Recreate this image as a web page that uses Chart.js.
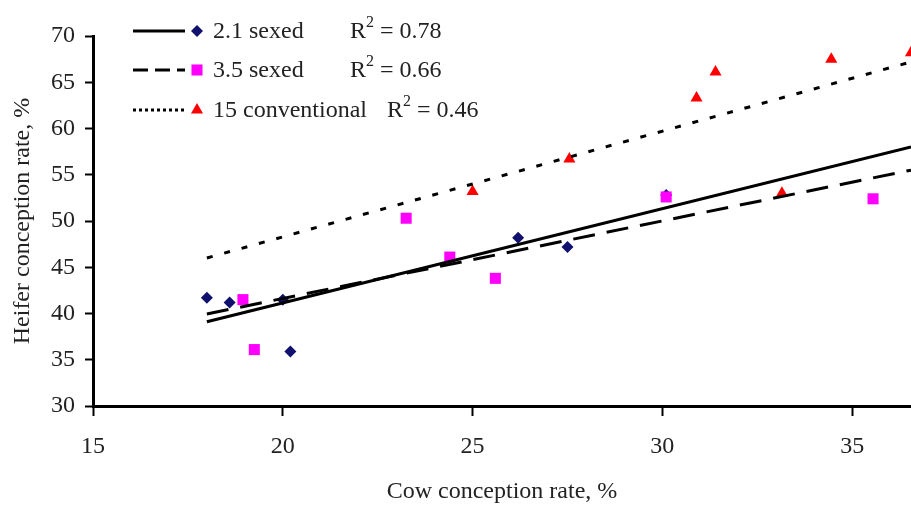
<!DOCTYPE html>
<html>
<head>
  <title>Heifer vs cow conception rate</title>
  <script src="https://cdn.jsdelivr.net/npm/chart.js"></script>
  <style>
    body { margin: 0; background: #fff; }
    #wrap { width: 911px; height: 506px; }
  </style>
</head>
<body>
  <div id="wrap"><canvas id="chart"></canvas></div>
  <script>
    // legend text
    const seriesNames = ['2.1 sexed', '3.5 sexed', '15 conventional'];
    const rSquared = ['0.78', '0.66', '0.46'];

    // points: cow conception rate (x) vs heifer conception rate (y)
    const sexed21Cow = [18.0, 18.6, 20.0, 20.2, 26.2, 27.5, 30.1];
    const sexed21Heifer = [41.7, 41.2, 41.5, 35.9, 48.2, 47.2, 52.8];
    const sexed35Cow = [18.95, 19.25, 23.25, 24.4, 25.6, 30.1, 35.55];
    const sexed35Heifer = [41.5, 36.1, 50.3, 46.1, 43.8, 52.6, 52.4];
    const convCow = [25.0, 27.55, 30.9, 31.4, 33.15, 34.45, 36.55];
    const convHeifer = [53.2, 56.7, 63.3, 66.1, 53.0, 67.5, 68.2];

    // trend line end points
    const trendCow = [18.0, 36.55];
    const trend21 = [39.1, 58.0];
    const trend35 = [39.95, 55.5];
    const trend15 = [46.0, 67.2];

    // axes
    const xMin = 15, xMax = 36.55, xStep = 5;
    const yMin = 30, yMax = 70, yStep = 5;

    const pairs = (xs, ys) => xs.map((x, i) => ({ x: x, y: ys[i] }));
    const serif = 'Liberation Serif';
    const textColor = '#222';

    const markers = [
      { style: 'rectRot', color: '#10106e', r: 6 },
      { style: 'rect', color: '#ff00ff', r: 7.8 },
      { style: 'triangle', color: '#ff0000', r: 7 }
    ];
    const plotDash = [[], [22, 12], [6, 12]];
    const legendDash = [[], [15, 7], [3, 3]];

    // legend marker, same geometry as Chart.js point styles
    function drawMarker(ctx, m, x, y) {
      ctx.save();
      ctx.fillStyle = m.color;
      ctx.beginPath();
      if (m.style === 'rectRot') {
        ctx.moveTo(x, y - m.r); ctx.lineTo(x + m.r, y);
        ctx.lineTo(x, y + m.r); ctx.lineTo(x - m.r, y);
      } else if (m.style === 'rect') {
        const s = m.r * Math.SQRT1_2;
        ctx.rect(x - s, y - s, s * 2, s * 2);
      } else {
        ctx.moveTo(x, y - m.r);
        ctx.lineTo(x + m.r * 0.866, y + m.r / 2);
        ctx.lineTo(x - m.r * 0.866, y + m.r / 2);
      }
      ctx.closePath();
      ctx.fill();
      ctx.restore();
    }

    const legendPlugin = {
      id: 'insideLegend',
      afterDraw(chart) {
        const ctx = chart.ctx;
        const rows = [31, 70, 110];
        const rX = [350, 350, 387];
        ctx.save();
        ctx.textBaseline = 'middle';
        rows.forEach((y, k) => {
          ctx.beginPath();
          ctx.setLineDash(legendDash[k]);
          ctx.lineWidth = 3;
          ctx.strokeStyle = '#000';
          ctx.moveTo(133, y);
          ctx.lineTo(185, y);
          ctx.stroke();
          ctx.setLineDash([]);
          drawMarker(ctx, markers[k], 197, y);
          ctx.fillStyle = textColor;
          ctx.font = '24px "' + serif + '"';
          ctx.fillText(seriesNames[k], 213, y + 1);
          ctx.fillText('R', rX[k], y + 1);
          const wR = ctx.measureText('R').width;
          ctx.font = '16px "' + serif + '"';
          ctx.fillText('2', rX[k] + wR, y - 8);
          const w2 = ctx.measureText('2').width;
          ctx.font = '24px "' + serif + '"';
          ctx.fillText(' = ' + rSquared[k], rX[k] + wR + w2, y + 1);
        });
        ctx.restore();
      }
    };

    const pointSet = (k, xs, ys, order) => ({
      label: seriesNames[k],
      data: pairs(xs, ys),
      pointStyle: markers[k].style,
      pointRadius: markers[k].r,
      pointBackgroundColor: markers[k].color,
      pointBorderWidth: 0,
      showLine: false,
      order: order
    });
    const lineSet = (k, ys) => ({
      label: seriesNames[k] + ' trend',
      data: pairs(trendCow, ys),
      showLine: true,
      pointRadius: 0,
      borderColor: '#000',
      borderWidth: 3,
      borderDash: plotDash[k],
      order: 0
    });

    const ctx = document.getElementById('chart').getContext('2d');
    const chart = new Chart(ctx, {
      type: 'scatter',
      data: {
        datasets: [
          pointSet(0, sexed21Cow, sexed21Heifer, 3),
          pointSet(1, sexed35Cow, sexed35Heifer, 2),
          pointSet(2, convCow, convHeifer, 1),
          lineSet(0, trend21),
          lineSet(1, trend35),
          lineSet(2, trend15)
        ]
      },
      options: {
        responsive: true,
        maintainAspectRatio: false,
        animation: false,
        layout: { autoPadding: false, padding: { top: 36, right: 0, left: 0, bottom: 0 } },
        plugins: { legend: { display: false }, tooltip: { enabled: false } },
        scales: {
          x: {
            type: 'linear',
            min: xMin,
            max: xMax,
            afterFit: s => { s.height = 100; },
            ticks: { stepSize: xStep, includeBounds: false, padding: 16, color: textColor, font: { family: serif, size: 24 } },
            grid: { drawOnChartArea: false, drawTicks: true, tickLength: 10, tickWidth: 2, tickColor: '#000' },
            border: { color: '#000', width: 3 },
            title: { display: true, text: 'Cow conception rate, %', color: textColor, padding: { top: 2, bottom: 0 }, font: { family: serif, size: 24 } }
          },
          y: {
            min: yMin,
            max: yMax,
            afterFit: s => { s.width = 93; },
            ticks: { stepSize: yStep, padding: 10, color: textColor, font: { family: serif, size: 24 } },
            grid: { drawOnChartArea: false, drawTicks: true, tickLength: 8, tickWidth: 2, tickColor: '#000' },
            border: { color: '#000', width: 3 },
            title: { display: true, text: 'Heifer conception rate, %', color: textColor, padding: { top: 8, bottom: 0 }, font: { family: serif, size: 24 } }
          }
        }
      },
      plugins: [legendPlugin]
    });
  </script>
</body>
</html>
